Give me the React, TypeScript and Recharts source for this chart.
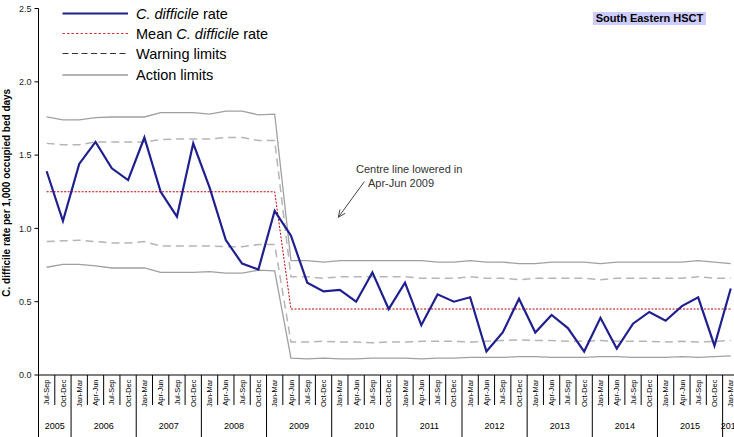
import { LineChart, Line, XAxis, YAxis, Legend } from "recharts";

const QUARTERS = [
  "Jul-Sep", "Oct-Dec",
  "Jan-Mar", "Apr-Jun", "Jul-Sep", "Oct-Dec",
  "Jan-Mar", "Apr-Jun", "Jul-Sep", "Oct-Dec",
  "Jan-Mar", "Apr-Jun", "Jul-Sep", "Oct-Dec",
  "Jan-Mar", "Apr-Jun", "Jul-Sep", "Oct-Dec",
  "Jan-Mar", "Apr-Jun", "Jul-Sep", "Oct-Dec",
  "Jan-Mar", "Apr-Jun", "Jul-Sep", "Oct-Dec",
  "Jan-Mar", "Apr-Jun", "Jul-Sep", "Oct-Dec",
  "Jan-Mar", "Apr-Jun", "Jul-Sep", "Oct-Dec",
  "Jan-Mar", "Apr-Jun", "Jul-Sep", "Oct-Dec",
  "Jan-Mar", "Apr-Jun", "Jul-Sep", "Oct-Dec",
  "Jan-Mar",
];

const YEARS = [
  2005, 2005,
  2006, 2006, 2006, 2006,
  2007, 2007, 2007, 2007,
  2008, 2008, 2008, 2008,
  2009, 2009, 2009, 2009,
  2010, 2010, 2010, 2010,
  2011, 2011, 2011, 2011,
  2012, 2012, 2012, 2012,
  2013, 2013, 2013, 2013,
  2014, 2014, 2014, 2014,
  2015, 2015, 2015, 2015,
  2016,
];

const RATE = [
  1.39, 1.05, 1.44, 1.59, 1.41, 1.33, 1.62, 1.25, 1.08, 1.58, 1.28, 0.92, 0.76, 0.72, 1.12,
  0.95, 0.63, 0.57, 0.58, 0.5, 0.7, 0.45, 0.63, 0.34, 0.55, 0.5, 0.53, 0.16, 0.29,
  0.52, 0.29, 0.41, 0.32, 0.16, 0.39, 0.18, 0.35, 0.43, 0.37, 0.47, 0.53, 0.2, 0.59,
];

const MEAN = [
  1.25, 1.25, 1.25, 1.25, 1.25, 1.25, 1.25, 1.25, 1.25, 1.25, 1.25, 1.25, 1.25, 1.25, 1.25,
  0.45, 0.45, 0.45, 0.45, 0.45, 0.45, 0.45, 0.45, 0.45, 0.45, 0.45, 0.45, 0.45, 0.45,
  0.45, 0.45, 0.45, 0.45, 0.45, 0.45, 0.45, 0.45, 0.45, 0.45, 0.45, 0.45, 0.45, 0.45,
];

const UPPER_ACTION = [
  1.76, 1.74, 1.74, 1.755, 1.76, 1.76, 1.76, 1.79, 1.79, 1.79, 1.78, 1.8, 1.8, 1.775, 1.78,
  0.78, 0.78, 0.77, 0.78, 0.78, 0.78, 0.78, 0.78, 0.78, 0.77, 0.77, 0.78, 0.77, 0.77,
  0.76, 0.76, 0.77, 0.77, 0.77, 0.76, 0.77, 0.77, 0.77, 0.77, 0.77, 0.78, 0.77, 0.76,
];

const UPPER_WARNING = [
  1.58, 1.57, 1.57, 1.59, 1.59, 1.59, 1.59, 1.605, 1.61, 1.61, 1.61, 1.62, 1.62, 1.6, 1.6,
  0.67, 0.67, 0.66, 0.67, 0.67, 0.67, 0.67, 0.67, 0.66, 0.66, 0.66, 0.67, 0.66, 0.66,
  0.65, 0.66, 0.66, 0.66, 0.66, 0.65, 0.66, 0.66, 0.66, 0.66, 0.66, 0.67, 0.66, 0.66,
];

const LOWER_WARNING = [
  0.91, 0.915, 0.92, 0.91, 0.9, 0.9, 0.91, 0.88, 0.88, 0.88, 0.88, 0.875, 0.875, 0.89, 0.89,
  0.225, 0.225, 0.23, 0.225, 0.225, 0.22, 0.225, 0.225, 0.23, 0.23, 0.23, 0.225, 0.23, 0.235,
  0.24, 0.235, 0.235, 0.23, 0.23, 0.235, 0.23, 0.23, 0.23, 0.225, 0.23, 0.225, 0.23, 0.235,
];

const LOWER_ACTION = [
  0.735, 0.755, 0.755, 0.745, 0.73, 0.73, 0.73, 0.7, 0.7, 0.7, 0.705, 0.695, 0.695, 0.715, 0.71,
  0.115, 0.11, 0.115, 0.11, 0.11, 0.115, 0.115, 0.115, 0.11, 0.115, 0.115, 0.12, 0.12, 0.12,
  0.125, 0.125, 0.12, 0.12, 0.12, 0.125, 0.125, 0.12, 0.12, 0.12, 0.125, 0.12, 0.125, 0.13,
];

const Y_TICKS = [0, 0.5, 1, 1.5, 2, 2.5];

const FONT = "'Liberation Sans', Arial, sans-serif";

// chart geometry
const CHART_W = 760;
const Y_AXIS_W = 38.5;
const RIGHT_PAD = 21.1;
const HALF_BAND = (CHART_W - Y_AXIS_W - RIGHT_PAD) / QUARTERS.length / 2;
const X_TICKS = QUARTERS.map((_, i) => i);

const data = QUARTERS.map((q, i) => ({
  idx: i,
  q,
  rate: RATE[i],
  mean: MEAN[i],
  ua: UPPER_ACTION[i],
  uw: UPPER_WARNING[i],
  lw: LOWER_WARNING[i],
  la: LOWER_ACTION[i],
}));

function QuarterTick(props: any) {
  const { x, y, payload } = props;
  const i = Math.round(Number(payload.value));
  const half = HALF_BAND;
  const yr = YEARS[i];
  const first = i === 0 || YEARS[i - 1] !== yr;
  const count = YEARS.filter((v) => v === yr).length;
  const left = x - half;
  return (
    <g>
      <line x1={left} x2={left} y1={y} y2={first ? y + 64 : y + 30} stroke="#000" strokeWidth={1} />
      <text
        transform={`translate(${x},${y + 4.5}) rotate(-90)`}
        dy="0.35em"
        textAnchor="end"
        fontSize={7.5}
        fontFamily={FONT}
        fill="#000"
      >
        {QUARTERS[i]}
      </text>
      {first && (
        <text x={left + count * half} y={y + 53.5} textAnchor="middle" fontSize={9} fontFamily={FONT} fill="#000">
          {yr}
        </text>
      )}
    </g>
  );
}

function renderName(name: string) {
  const parts = name.split("C. difficile");
  if (parts.length < 2) return name;
  return (
    <>
      {parts[0]}
      <tspan fontStyle="italic">C. difficile</tspan>
      {parts[1]}
    </>
  );
}

const LEGEND_ORDER = ["rate", "mean", "uw", "ua"];
const LEGEND_ROWS = [13.5, 33.5, 53.5, 75];
const LEGEND_LOOK: Record<string, { stroke: string; width: number; dash?: string }> = {
  rate: { stroke: "#1f1f90", width: 2 },
  mean: { stroke: "#e03030", width: 1, dash: "2.5 2" },
  uw: { stroke: "#333", width: 1, dash: "6 3.5" },
  ua: { stroke: "#999", width: 1.5 },
};

function LegendBox(props: any) {
  const payload = props.payload || [];
  const items = LEGEND_ORDER.map((k) => payload.find((p: any) => p.dataKey === k)).filter(Boolean);
  return (
    <svg width={320} height={90} style={{ display: "block" }}>
      {items.map((it: any, n: number) => {
        const yy = LEGEND_ROWS[n];
        const look = LEGEND_LOOK[it.dataKey];
        return (
          <g key={it.dataKey}>
            <line
              x1={62.5}
              x2={128}
              y1={yy}
              y2={yy}
              stroke={look.stroke}
              strokeWidth={look.width}
              strokeDasharray={look.dash}
            />
            <text x={136} y={yy + 5} fontSize={14.5} fontFamily={FONT} fill="#000">
              {renderName(it.value)}
            </text>
          </g>
        );
      })}
    </svg>
  );
}

function YLabel(props: any) {
  const vb = props.viewBox;
  return (
    <text
      transform={`translate(${vb.x + 9.5},${vb.y + vb.height / 2 + 1}) rotate(-90)`}
      textAnchor="middle"
      fontSize={10}
      fontWeight="bold"
      fontFamily={FONT}
      fill="#000"
    >
      C. difficile rate per 1,000 occupied bed days
    </text>
  );
}

// arrow for the annotation
const tail = { x: 364.3, y: 181.7 };
const tip = { x: 338.3, y: 217.3 };
const ang = Math.atan2(tail.y - tip.y, tail.x - tip.x);
const head = (d: number) => ({
  x: tip.x + 8 * Math.cos(ang + d),
  y: tip.y + 8 * Math.sin(ang + d),
});
const h1 = head(0.42);
const h2 = head(-0.42);

export default function App() {
  return (
    <div
      style={{
        position: "absolute",
        left: 0,
        top: 0,
        width: 734,
        height: 437,
        overflow: "hidden",
        background: "#fff",
      }}
    >
      <LineChart width={CHART_W} height={437} data={data} margin={{ top: 8.5, right: RIGHT_PAD, left: 0, bottom: 0 }}>
        <XAxis
          dataKey="idx"
          type="number"
          domain={[-0.5, QUARTERS.length - 0.5]}
          ticks={X_TICKS}
          interval={0}
          height={62}
          tickLine={false}
          tickSize={0}
          tickMargin={0}
          axisLine={{ stroke: "#000" }}
          tick={<QuarterTick />}
        />
        <YAxis
          domain={[0, 2.5]}
          ticks={Y_TICKS}
          width={Y_AXIS_W}
          tickSize={4}
          tickMargin={3}
          tick={{ fontSize: 9, fill: "#222", fontFamily: FONT }}
          axisLine={{ stroke: "#000" }}
          tickLine={{ stroke: "#000" }}
          tickFormatter={(v: number) => v.toFixed(1)}
          label={{ content: YLabel }}
        />
        <Legend
          layout="vertical"
          align="center"
          verticalAlign="middle"
          wrapperStyle={{ top: 0, left: 0, width: 320, height: 90 }}
          content={LegendBox}
        />
        <Line dataKey="ua" name="Action limits" stroke="#a0a0a0" strokeWidth={1.3} dot={false} activeDot={false} isAnimationActive={false} />
        <Line dataKey="la" name="Lower action" legendType="none" stroke="#a0a0a0" strokeWidth={1.3} dot={false} activeDot={false} isAnimationActive={false} />
        <Line dataKey="uw" name="Warning limits" stroke="#b5b5b5" strokeWidth={1.5} strokeDasharray="8 5" dot={false} activeDot={false} isAnimationActive={false} />
        <Line dataKey="lw" name="Lower warning" legendType="none" stroke="#b5b5b5" strokeWidth={1.5} strokeDasharray="8 5" dot={false} activeDot={false} isAnimationActive={false} />
        <Line dataKey="mean" name="Mean C. difficile rate" stroke="#c00000" strokeWidth={1} strokeDasharray="2 1.5" dot={false} activeDot={false} isAnimationActive={false} />
        <Line dataKey="rate" name="C. difficile rate" stroke="#1f1f90" strokeWidth={2.2} dot={false} activeDot={false} isAnimationActive={false} />
      </LineChart>

      <svg
        width={734}
        height={437}
        style={{ position: "absolute", left: 0, top: 0, pointerEvents: "none" }}
      >
        <text x={356} y={172.5} fontSize={11} fontFamily={FONT} fill="#333">
          Centre line lowered in
        </text>
        <text x={368} y={186.5} fontSize={11} fontFamily={FONT} fill="#333">
          Apr-Jun 2009
        </text>
        <line x1={tail.x} y1={tail.y} x2={tip.x} y2={tip.y} stroke="#444" strokeWidth={1} />
        <polyline points={`${h1.x},${h1.y} ${tip.x},${tip.y} ${h2.x},${h2.y}`} fill="none" stroke="#444" strokeWidth={1} />
      </svg>

      <div
        style={{
          position: "absolute",
          left: 593,
          top: 12,
          width: 113,
          height: 13,
          lineHeight: "13px",
          background: "#ccccff",
          fontFamily: FONT,
          fontWeight: "bold",
          fontSize: 11,
          textAlign: "center",
          color: "#000",
          whiteSpace: "nowrap",
        }}
      >
        South Eastern HSCT
      </div>
    </div>
  );
}
